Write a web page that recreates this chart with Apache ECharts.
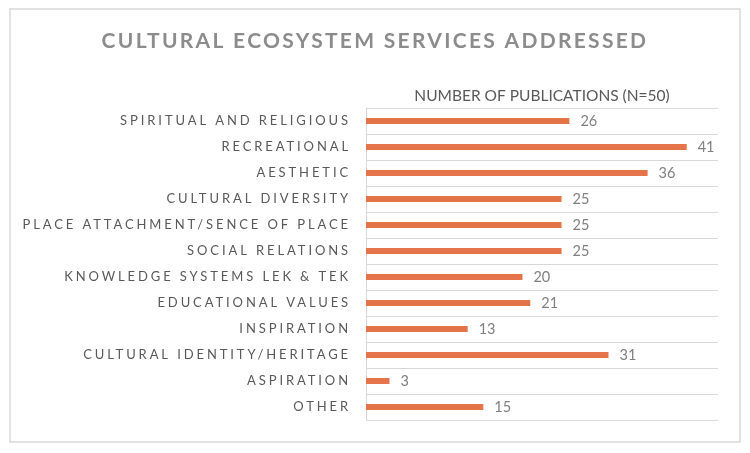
<!DOCTYPE html>
<html>
<head>
<meta charset="utf-8">
<title>Cultural ecosystem services addressed</title>
<script src="https://cdn.jsdelivr.net/npm/echarts@6/dist/echarts.min.js"></script>
<style>
  html, body { margin: 0; padding: 0; background: #fff; }
  #chart { width: 750px; height: 453px; }
</style>
</head>
<body>
<div id="chart"></div>
<script>
// data
const categories = [
  'SPIRITUAL AND RELIGIOUS',
  'RECREATIONAL',
  'AESTHETIC',
  'CULTURAL DIVERSITY',
  'PLACE ATTACHMENT/SENCE OF PLACE',
  'SOCIAL RELATIONS',
  'KNOWLEDGE SYSTEMS LEK & TEK',
  'EDUCATIONAL VALUES',
  'INSPIRATION',
  'CULTURAL IDENTITY/HERITAGE',
  'ASPIRATION',
  'OTHER'
];
const publications = [26, 41, 36, 25, 25, 25, 20, 21, 13, 31, 3, 15];

const FONT = 'Lato, "Open Sans", sans-serif';

// the original (Excel) uses spaced-out caps for title and category labels;
// echarts has no letterSpacing option so set it on the canvas per font size
const spacingBySize = { 21: '2.3px', 13: '2.9px' };
const origFillText = CanvasRenderingContext2D.prototype.fillText;
CanvasRenderingContext2D.prototype.fillText = function (text, x, y, maxW) {
  const m = /(\d+)px/.exec(this.font);
  this.letterSpacing = (m && spacingBySize[m[1]]) || '0px';
  return maxW === undefined
    ? origFillText.call(this, text, x, y)
    : origFillText.call(this, text, x, y, maxW);
};

const chart = echarts.init(document.getElementById('chart'), null, { renderer: 'canvas' });

const option = {
  backgroundColor: '#fff',
  animation: false,
  title: {
    text: 'CULTURAL ECOSYSTEM SERVICES ADDRESSED',
    left: 'center',
    top: 26,
    textStyle: {
      fontFamily: FONT,
      fontSize: 21,
      fontWeight: 'bold',
      color: '#8c8c8c'
    }
  },
  graphic: [
    {
      type: 'rect',
      shape: { x: 10, y: 9, width: 730, height: 433 },
      style: { fill: 'none', stroke: '#d9d9d9', lineWidth: 1.5 },
      silent: true
    }
  ],
  grid: {
    left: 366,
    right: 32,
    top: 108,
    bottom: 33
  },
  xAxis: {
    type: 'value',
    position: 'top',
    min: 0,
    max: 45,
    name: 'NUMBER OF PUBLICATIONS (N=50)',
    nameLocation: 'middle',
    nameGap: 12,
    nameTextStyle: {
      fontFamily: FONT,
      fontSize: 15.5,
      color: '#595959',
      verticalAlign: 'middle'
    },
    axisLine: { show: false },
    axisTick: { show: false },
    axisLabel: { show: false },
    splitLine: { show: false }
  },
  yAxis: {
    type: 'category',
    data: categories,
    inverse: true,
    axisLine: { show: true, lineStyle: { color: '#d9d9d9', width: 1 } },
    axisTick: { show: false },
    axisLabel: {
      margin: 15,
      fontFamily: FONT,
      fontSize: 13,
      color: '#595959',
      padding: [2, 0, 0, 0]
    },
    splitLine: { show: true, lineStyle: { color: '#d9d9d9', width: 1 } }
  },
  series: [
    {
      type: 'bar',
      data: publications,
      barWidth: 6,
      itemStyle: { color: '#e4744a' },
      label: {
        show: true,
        position: 'right',
        distance: 11,
        fontFamily: FONT,
        fontSize: 14.5,
        color: '#808080'
      }
    }
  ]
};

chart.setOption(option);
</script>
</body>
</html>
